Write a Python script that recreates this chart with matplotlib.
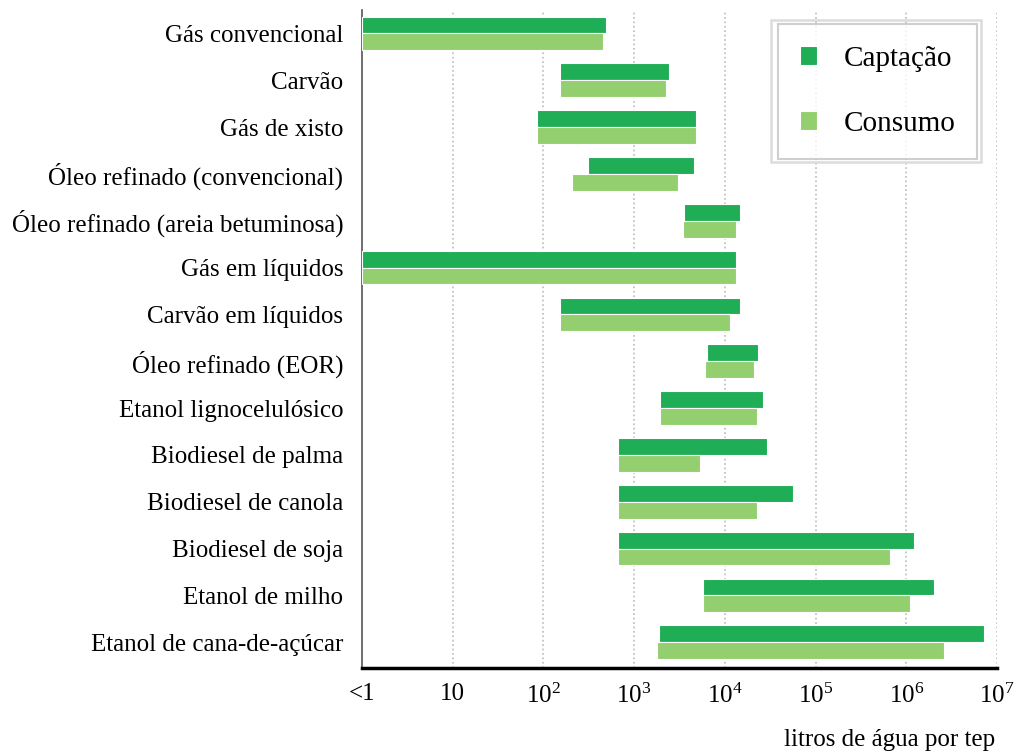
import matplotlib.pyplot as plt
from matplotlib.patches import Rectangle
import numpy as np

plt.rcParams["font.family"] = ["Liberation Serif", "DejaVu Serif"]
plt.rcParams["mathtext.fontset"] = "custom"
plt.rcParams["mathtext.rm"] = "Liberation Serif"
plt.rcParams["mathtext.it"] = "Liberation Serif:italic"

# fontes de energia (de cima para baixo)
categorias = [
    "Gás convencional", "Carvão", "Gás de xisto", "Óleo refinado (convencional)",
    "Óleo refinado (areia betuminosa)", "Gás em líquidos", "Carvão em líquidos",
    "Óleo refinado (EOR)", "Etanol lignocelulósico", "Biodiesel de palma",
    "Biodiesel de canola", "Biodiesel de soja", "Etanol de milho",
    "Etanol de cana-de-açúcar",
]

# litros de água por tep: mínimo e máximo
captacao_min = [1, 152, 85, 310, 3550, 1, 152, 6370, 1930, 664, 664, 664, 5750, 1880]
captacao_max = [490, 2430, 4810, 4580, 14700, 13300, 14700, 23200, 26400, 29200,
                56500, 1.22e6, 2.02e6, 7.2e6]
consumo_min = [1, 152, 85, 207, 3460, 1, 152, 6050, 1930, 664, 664, 664, 5750, 1790]
consumo_max = [454, 2250, 4810, 3050, 13300, 13300, 11400, 21000, 22700, 5330,
               22700, 6.6e5, 1.1e6, 2.61e6]

tick_vals = [1, 10, 1e2, 1e3, 1e4, 1e5, 1e6, 1e7]
tick_labels = ["<1", "10", r"$10^{2}$", r"$10^{3}$", r"$10^{4}$", r"$10^{5}$",
               r"$10^{6}$", r"$10^{7}$"]

cor_captacao = "#1fad55"
cor_consumo = "#93cf6f"

W, H = 1020, 754
fig = plt.figure(figsize=(W / 100, H / 100), dpi=100)
ax = fig.add_axes([0.3549, 0.1141, 0.6226, 0.8726])

y = np.arange(len(categorias))
h = 0.36
cmin = np.array(captacao_min, dtype=float)
cmax = np.array(captacao_max, dtype=float)
smin = np.array(consumo_min, dtype=float)
smax = np.array(consumo_max, dtype=float)

ax.barh(y - h / 2, cmax - cmin, left=cmin, height=h, color=cor_captacao,
        edgecolor="white", linewidth=0.8, label="Captação", zorder=3)
ax.barh(y + h / 2, smax - smin, left=smin, height=h, color=cor_consumo,
        edgecolor="white", linewidth=0.8, label="Consumo", zorder=3)

ax.set_xscale("log")
ax.set_xlim(1, 1e7)
ax.set_ylim(len(categorias) - 0.45, -0.5)
ax.set_xticks(tick_vals)
ax.set_xticklabels(tick_labels, fontsize=18)
ax.xaxis.set_minor_locator(plt.NullLocator())
ax.set_yticks(y)
ax.set_yticklabels(categorias, fontsize=18)
ax.tick_params(axis="x", length=0, pad=11)
ax.tick_params(axis="y", length=0, pad=13.5)

for v in tick_vals[1:]:
    ax.axvline(v, color="#bbbbbb", linestyle=":", linewidth=1.2, zorder=1)

ax.spines["top"].set_visible(False)
ax.spines["right"].set_visible(False)
ax.spines["bottom"].set_linewidth(2.5)
ax.spines["left"].set_color("#555555")
ax.spines["left"].set_linewidth(1.2)

leg = ax.legend(loc="upper right", bbox_to_anchor=(977 / W, 1 - 24 / H),
                bbox_transform=fig.transFigure, fontsize=21,
                frameon=True, fancybox=False, edgecolor="#c4c4c4",
                handlelength=0.6, handleheight=0.6, handletextpad=0.9,
                labelspacing=1.35, borderpad=0.74, borderaxespad=0)
leg.get_frame().set_linewidth(1.5)

# moldura externa dupla da legenda
fig.patches.append(Rectangle((771 / W, 1 - 162 / H), 210 / W, 142 / H,
                             transform=fig.transFigure, fill=False,
                             edgecolor="#dcdcdc", linewidth=1.8))

fig.text(995 / W, 0.004, "litros de água por tep", ha="right", va="bottom", fontsize=18)

fig.savefig("out.png", dpi=100)
